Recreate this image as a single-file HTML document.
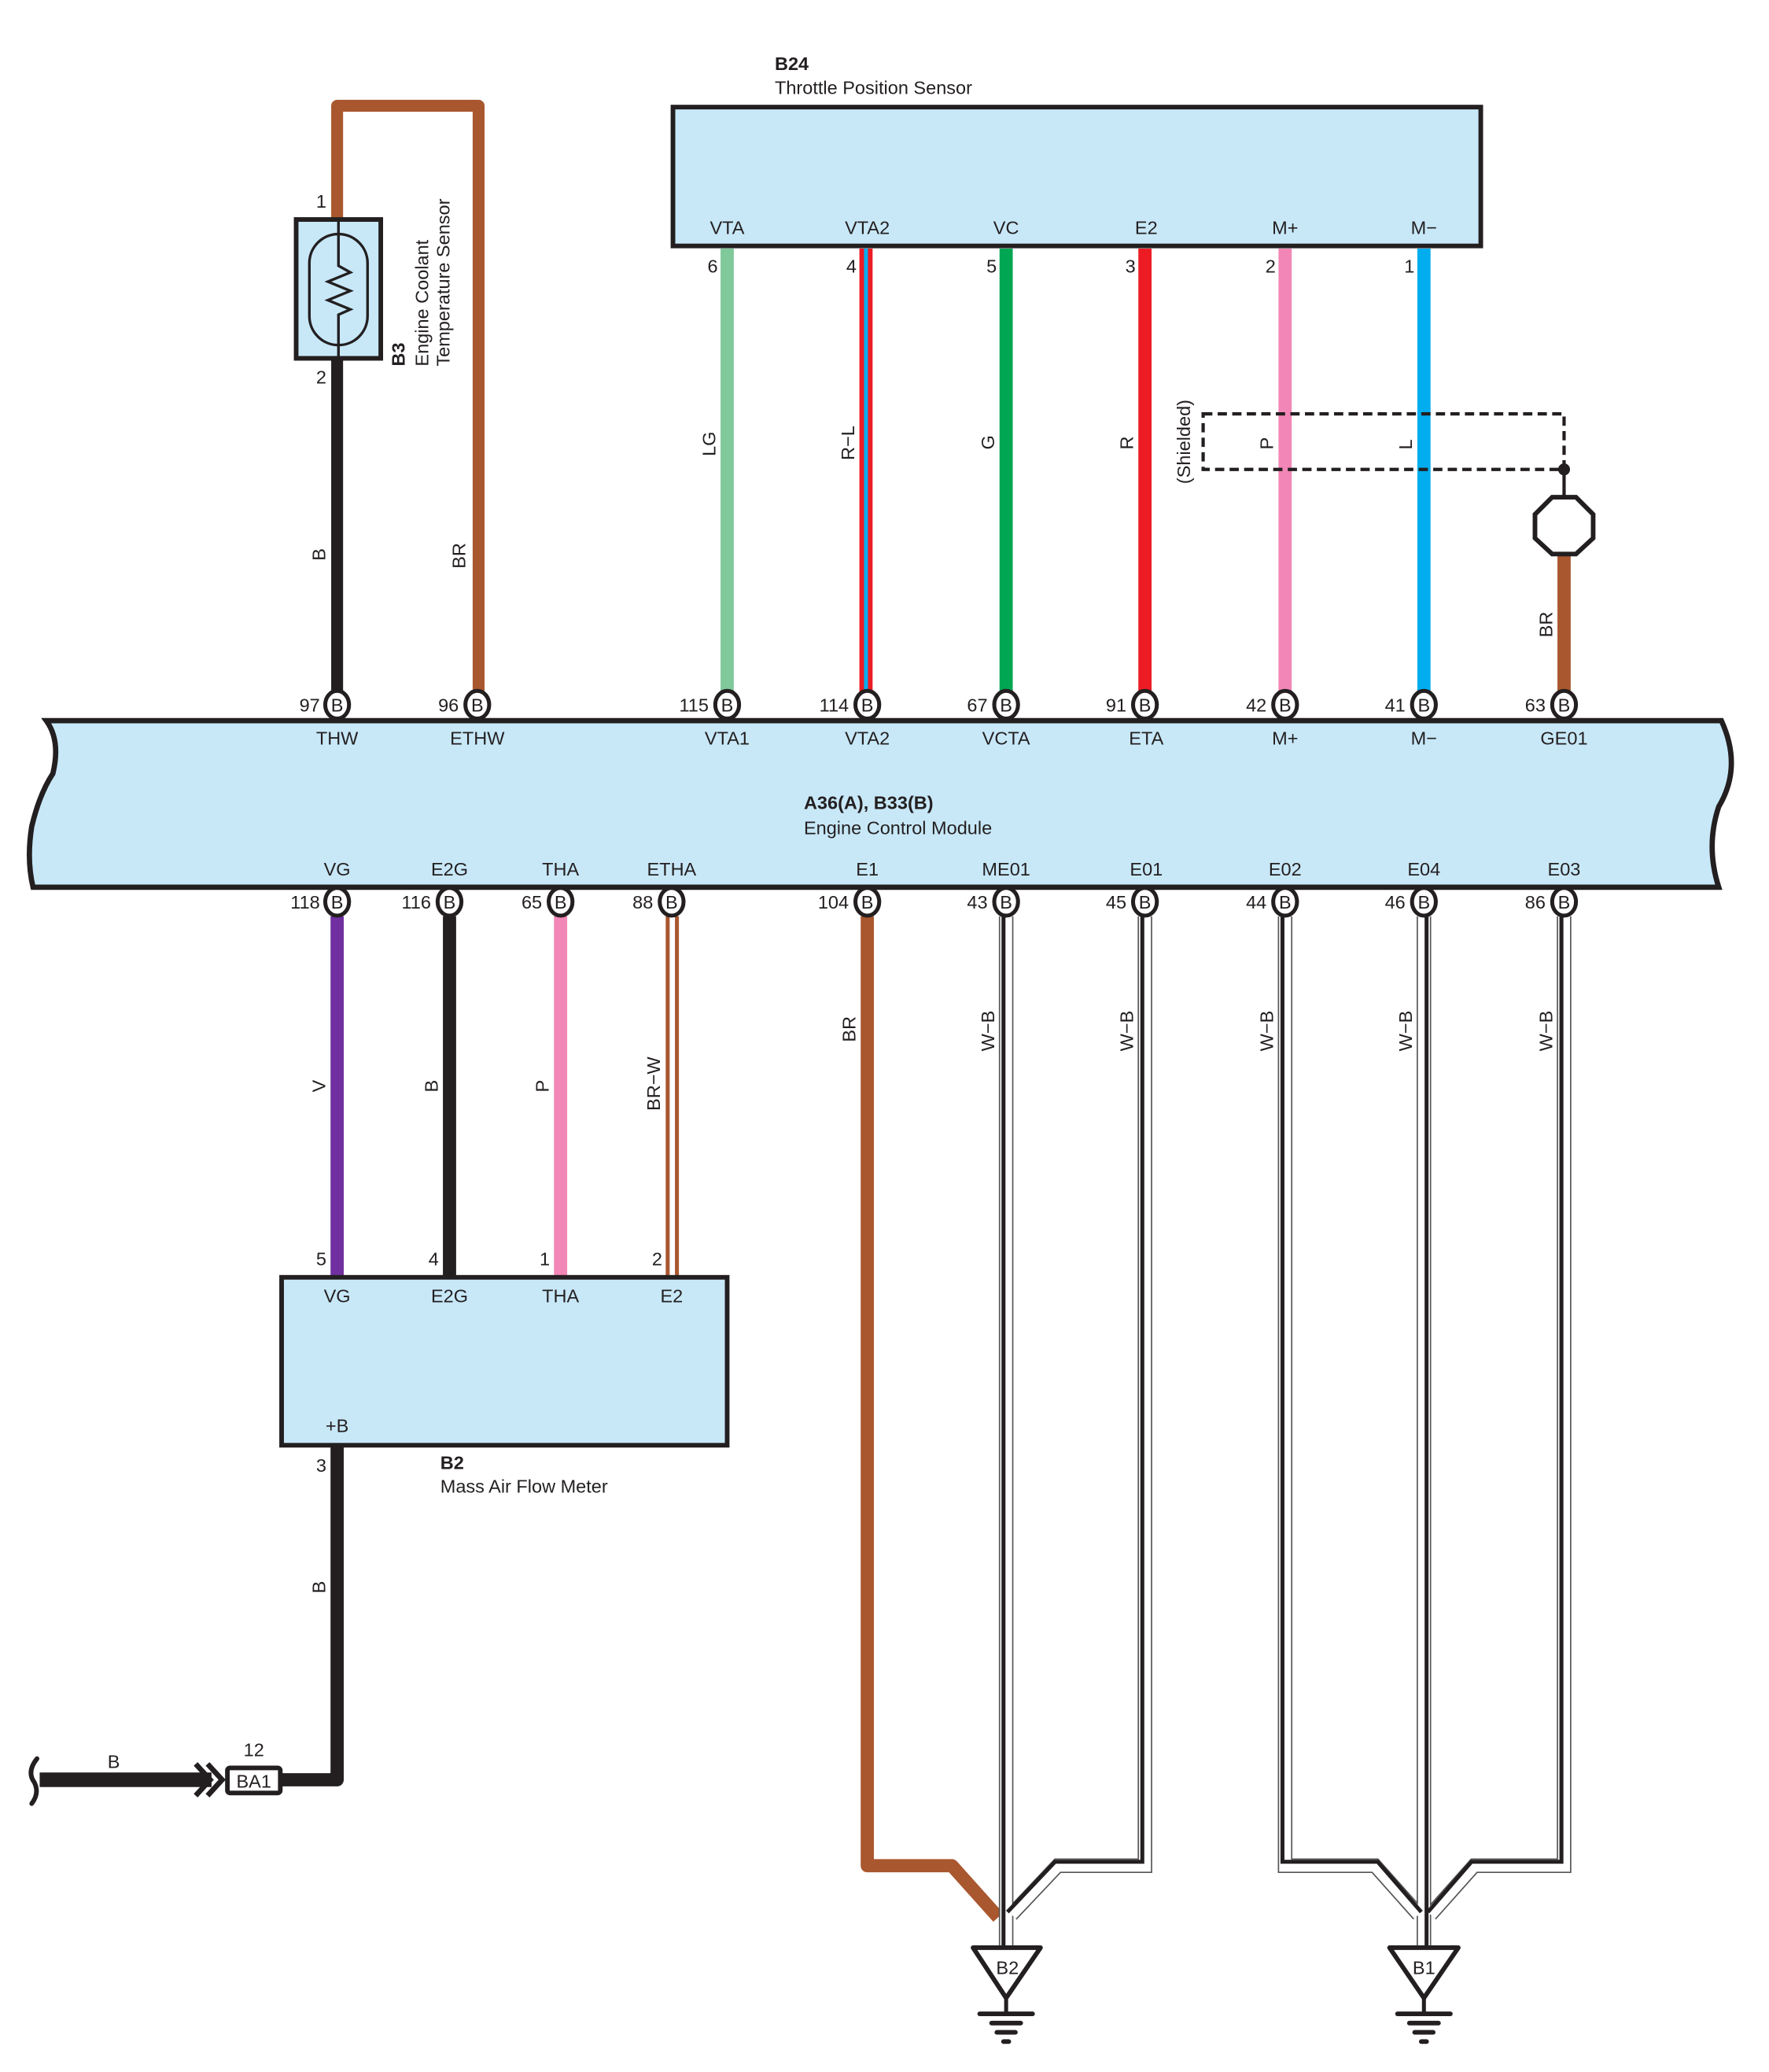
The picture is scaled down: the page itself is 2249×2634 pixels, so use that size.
<!DOCTYPE html>
<html><head><meta charset="utf-8"><style>
html,body{margin:0;padding:0;background:#fff}
svg{display:block}
text{font-family:"Liberation Sans",sans-serif;fill:#231f20}
</style></head><body>
<svg width="2249" height="2634" viewBox="0 0 1338 1567" preserveAspectRatio="none" xmlns="http://www.w3.org/2000/svg">
<!-- B3 sensor wires -->
<polyline points="255,165 255,80 362,80 362,533" fill="none" stroke="#a9572f" stroke-width="9" stroke-linejoin="round"/>
<line x1="255" y1="271" x2="255" y2="533" stroke="#231f20" stroke-width="9"/>
<rect x="224" y="166" width="64" height="105" fill="#c8e8f8" stroke="#231f20" stroke-width="3.5"/>
<rect x="234" y="177" width="44" height="84" rx="22" fill="none" stroke="#231f20" stroke-width="2"/>
<polyline points="256,166 256,201 265,206 248,213 265,220 248,227 265,234 256,238 256,271" fill="none" stroke="#231f20" stroke-width="2"/>
<text x="243" y="157" font-size="14" text-anchor="middle">1</text>
<text x="243" y="290" font-size="14" text-anchor="middle">2</text>
<text transform="translate(306,277) rotate(-90)" font-size="14" font-weight="bold">B3</text>
<text transform="translate(324,277) rotate(-90)" font-size="14">Engine Coolant</text>
<text transform="translate(340,277) rotate(-90)" font-size="14">Temperature Sensor</text>
<text transform="translate(246,424) rotate(-90)" font-size="14">B</text>
<text transform="translate(352,430) rotate(-90)" font-size="14">BR</text>

<!-- TPS -->
<text x="586" y="53" font-size="14" font-weight="bold">B24</text>
<text x="586" y="71" font-size="14">Throttle Position Sensor</text>
<rect x="509" y="81" width="611" height="105" fill="#c8e8f8" stroke="#231f20" stroke-width="3.5"/>
<g font-size="14" text-anchor="middle">
<text x="550" y="177">VTA</text><text x="656" y="177">VTA2</text><text x="761" y="177">VC</text>
<text x="867" y="177">E2</text><text x="972" y="177">M+</text><text x="1077" y="177">M−</text>
</g>
<line x1="550" y1="188" x2="550" y2="533" stroke="#7fc99a" stroke-width="10"/>
<line x1="655" y1="188" x2="655" y2="533" stroke="#ed1c24" stroke-width="10"/>
<line x1="655" y1="188" x2="655" y2="533" stroke="#00aeef" stroke-width="3"/>
<line x1="761" y1="188" x2="761" y2="533" stroke="#00a651" stroke-width="10"/>
<line x1="866" y1="188" x2="866" y2="533" stroke="#ed1c24" stroke-width="10"/>
<line x1="972" y1="188" x2="972" y2="533" stroke="#f287b7" stroke-width="10"/>
<line x1="1077" y1="188" x2="1077" y2="533" stroke="#00aeef" stroke-width="10"/>
<g font-size="14" text-anchor="middle">
<text x="539" y="206">6</text><text x="644" y="206">4</text><text x="750" y="206">5</text>
<text x="855" y="206">3</text><text x="961" y="206">2</text><text x="1066" y="206">1</text>
</g>
<g font-size="14">
<text transform="translate(541,345) rotate(-90)">LG</text>
<text transform="translate(646,348) rotate(-90)">R−L</text>
<text transform="translate(752,340) rotate(-90)">G</text>
<text transform="translate(857,340) rotate(-90)">R</text>
<text transform="translate(963,340) rotate(-90)">P</text>
<text transform="translate(1068,340) rotate(-90)">L</text>
<text transform="translate(900,366) rotate(-90)">(Shielded)</text>
</g>
<rect x="910" y="313" width="273" height="42" fill="none" stroke="#231f20" stroke-width="2.5" stroke-dasharray="7,4"/>
<circle cx="1183" cy="355" r="4.5" fill="#231f20"/>
<line x1="1183" y1="355" x2="1183" y2="378" stroke="#231f20" stroke-width="2.5"/>
<line x1="1183" y1="419" x2="1183" y2="533" stroke="#a9572f" stroke-width="10"/>
<polygon points="1174,376 1192,376 1205,389 1205,407 1192,419 1174,419 1161,407 1161,389" fill="#fff" stroke="#231f20" stroke-width="3.5"/>
<text transform="translate(1174,482) rotate(-90)" font-size="14">BR</text>

<!-- ECM -->
<path d="M35,545 L1302,545 Q1318,580 1300,610 Q1290,640 1300,671 L25,671 Q20,650 24,625 Q30,600 40,585 Q46,560 35,545 Z" fill="#c8e8f8" stroke="#231f20" stroke-width="4"/>
<text x="608" y="612" font-size="14" font-weight="bold">A36(A), B33(B)</text>
<text x="608" y="631" font-size="14">Engine Control Module</text>
<g font-size="14" text-anchor="middle">
<text x="255" y="563">THW</text><text x="361" y="563">ETHW</text><text x="550" y="563">VTA1</text>
<text x="656" y="563">VTA2</text><text x="761" y="563">VCTA</text><text x="867" y="563">ETA</text>
<text x="972" y="563">M+</text><text x="1077" y="563">M−</text><text x="1183" y="563">GE01</text>
<text x="255" y="662">VG</text><text x="340" y="662">E2G</text><text x="424" y="662">THA</text>
<text x="508" y="662">ETHA</text><text x="656" y="662">E1</text><text x="761" y="662">ME01</text>
<text x="867" y="662">E01</text><text x="972" y="662">E02</text><text x="1077" y="662">E04</text>
<text x="1183" y="662">E03</text>
</g>

<!-- bottom wires -->
<line x1="255" y1="693" x2="255" y2="966" stroke="#7030a0" stroke-width="10"/>
<line x1="340" y1="693" x2="340" y2="966" stroke="#231f20" stroke-width="10"/>
<line x1="424" y1="693" x2="424" y2="966" stroke="#f287b7" stroke-width="10"/>
<line x1="505" y1="693" x2="505" y2="966" stroke="#a9572f" stroke-width="3"/>
<line x1="512" y1="693" x2="512" y2="966" stroke="#a9572f" stroke-width="3"/>
<g font-size="14">
<text transform="translate(246,826) rotate(-90)">V</text>
<text transform="translate(331,826) rotate(-90)">B</text>
<text transform="translate(415,826) rotate(-90)">P</text>
<text transform="translate(499,840) rotate(-90)">BR−W</text>
<text transform="translate(647,788) rotate(-90)">BR</text>
</g>
<!-- E1 brown -->
<polyline points="656,693 656,1411 720,1411 755,1450" fill="none" stroke="#a9572f" stroke-width="10" stroke-linejoin="round"/>
<!-- W-B wires -->
<g fill="none" stroke-linejoin="miter">
<g stroke="#555" stroke-width="11">
<polyline points="761,693 761,1472"/>
<polyline points="866,693 866,1411 800,1411 765,1448"/>
<polyline points="972,693 972,1411 1040,1411 1073,1448"/>
<polyline points="1077,693 1077,1472"/>
<polyline points="1183,693 1183,1411 1115,1411 1082,1448"/>
</g>
<g stroke="#fff" stroke-width="9">
<polyline points="761,693 761,1472"/>
<polyline points="866,693 866,1411 800,1411 765,1448"/>
<polyline points="972,693 972,1411 1040,1411 1073,1448"/>
<polyline points="1077,693 1077,1472"/>
<polyline points="1183,693 1183,1411 1115,1411 1082,1448"/>
</g>
<g stroke="#231f20" stroke-width="3">
<polyline points="759,693 759,1472"/>
<polyline points="864,693 864,1408 798,1408 762,1446"/>
<polyline points="970,693 970,1408 1042,1408 1075,1446"/>
<polyline points="1079,693 1079,1472"/>
<polyline points="1181,693 1181,1408 1113,1408 1080,1446"/>
</g>
</g>
<g font-size="14">
<text transform="translate(752,795) rotate(-90)">W−B</text>
<text transform="translate(857,795) rotate(-90)">W−B</text>
<text transform="translate(963,795) rotate(-90)">W−B</text>
<text transform="translate(1068,795) rotate(-90)">W−B</text>
<text transform="translate(1174,795) rotate(-90)">W−B</text>
</g>
<!-- grounds -->
<g stroke="#231f20" fill="#fff" stroke-width="3.5" stroke-linejoin="round">
<polygon points="736,1473 787,1473 761,1511"/>
<polygon points="1051,1473 1103,1473 1077,1511"/>
</g>
<g stroke="#231f20" stroke-width="3" stroke-linecap="round">
<line x1="761" y1="1511" x2="761" y2="1522"/><line x1="1077" y1="1511" x2="1077" y2="1522"/>
</g>
<g stroke="#231f20" stroke-width="3.5" stroke-linecap="round">
<line x1="741" y1="1523" x2="781" y2="1523"/><line x1="750" y1="1530" x2="772" y2="1530"/>
<line x1="754" y1="1537" x2="768" y2="1537"/><line x1="759" y1="1544" x2="763" y2="1544"/>
<line x1="1057" y1="1523" x2="1097" y2="1523"/><line x1="1066" y1="1530" x2="1088" y2="1530"/>
<line x1="1070" y1="1537" x2="1084" y2="1537"/><line x1="1075" y1="1544" x2="1079" y2="1544"/>
</g>
<text x="762" y="1493" font-size="14" text-anchor="middle">B2</text>
<text x="1077" y="1493" font-size="14" text-anchor="middle">B1</text>

<!-- MAF -->
<rect x="213" y="966" width="337" height="127" fill="#c8e8f8" stroke="#231f20" stroke-width="3.5"/>
<g font-size="14" text-anchor="middle">
<text x="255" y="985">VG</text><text x="340" y="985">E2G</text><text x="424" y="985">THA</text><text x="508" y="985">E2</text>
<text x="255" y="1083">+B</text>
<text x="243" y="957">5</text><text x="328" y="957">4</text><text x="412" y="957">1</text><text x="497" y="957">2</text>
<text x="243" y="1113">3</text>
</g>
<text x="333" y="1111" font-size="14" font-weight="bold">B2</text>
<text x="333" y="1129" font-size="14">Mass Air Flow Meter</text>
<polyline points="255,1094 255,1346 213,1346" fill="none" stroke="#231f20" stroke-width="10" stroke-linejoin="round"/>
<text transform="translate(246,1205) rotate(-90)" font-size="14">B</text>
<line x1="30" y1="1346" x2="160" y2="1346" stroke="#231f20" stroke-width="11"/>
<path d="M28,1330 Q20,1340 26,1348 Q30,1356 24,1364" fill="none" stroke="#231f20" stroke-width="3.5" stroke-linecap="round"/>
<polyline points="148,1334 159,1346 148,1358" fill="none" stroke="#231f20" stroke-width="4"/>
<polyline points="157,1334 168,1346 157,1358" fill="none" stroke="#231f20" stroke-width="4"/>
<text x="86" y="1337" font-size="14" text-anchor="middle">B</text>
<rect x="172" y="1337" width="40" height="19" rx="2" fill="#fff" stroke="#231f20" stroke-width="3.5"/>
<text x="192" y="1352" font-size="14" text-anchor="middle">BA1</text>
<text x="192" y="1328" font-size="14" text-anchor="middle">12</text>

<!-- connectors -->
<g font-size="14" text-anchor="middle">
<g stroke="#231f20" stroke-width="3" fill="#fff">
<ellipse cx="255" cy="533" rx="9" ry="10.5"/><ellipse cx="361" cy="533" rx="9" ry="10.5"/>
<ellipse cx="550" cy="533" rx="9" ry="10.5"/><ellipse cx="656" cy="533" rx="9" ry="10.5"/>
<ellipse cx="761" cy="533" rx="9" ry="10.5"/><ellipse cx="866" cy="533" rx="9" ry="10.5"/>
<ellipse cx="972" cy="533" rx="9" ry="10.5"/><ellipse cx="1077" cy="533" rx="9" ry="10.5"/>
<ellipse cx="1183" cy="533" rx="9" ry="10.5"/>
<ellipse cx="255" cy="682" rx="9" ry="10.5"/><ellipse cx="340" cy="682" rx="9" ry="10.5"/>
<ellipse cx="424" cy="682" rx="9" ry="10.5"/><ellipse cx="508" cy="682" rx="9" ry="10.5"/>
<ellipse cx="656" cy="682" rx="9" ry="10.5"/><ellipse cx="761" cy="682" rx="9" ry="10.5"/>
<ellipse cx="866" cy="682" rx="9" ry="10.5"/><ellipse cx="972" cy="682" rx="9" ry="10.5"/>
<ellipse cx="1077" cy="682" rx="9" ry="10.5"/><ellipse cx="1183" cy="682" rx="9" ry="10.5"/>
</g>
<text x="255" y="538">B</text><text x="361" y="538">B</text><text x="550" y="538">B</text>
<text x="656" y="538">B</text><text x="761" y="538">B</text><text x="866" y="538">B</text>
<text x="972" y="538">B</text><text x="1077" y="538">B</text><text x="1183" y="538">B</text>
<text x="255" y="687">B</text><text x="340" y="687">B</text><text x="424" y="687">B</text>
<text x="508" y="687">B</text><text x="656" y="687">B</text><text x="761" y="687">B</text>
<text x="866" y="687">B</text><text x="972" y="687">B</text><text x="1077" y="687">B</text>
<text x="1183" y="687">B</text>
</g>
<g font-size="14" text-anchor="end">
<text x="242" y="538">97</text><text x="347" y="538">96</text><text x="536" y="538">115</text>
<text x="642" y="538">114</text><text x="747" y="538">67</text><text x="852" y="538">91</text>
<text x="958" y="538">42</text><text x="1063" y="538">41</text><text x="1169" y="538">63</text>
<text x="242" y="687">118</text><text x="326" y="687">116</text><text x="410" y="687">65</text>
<text x="494" y="687">88</text><text x="642" y="687">104</text><text x="747" y="687">43</text>
<text x="852" y="687">45</text><text x="958" y="687">44</text><text x="1063" y="687">46</text>
<text x="1169" y="687">86</text>
</g>
</svg>
</body></html>
